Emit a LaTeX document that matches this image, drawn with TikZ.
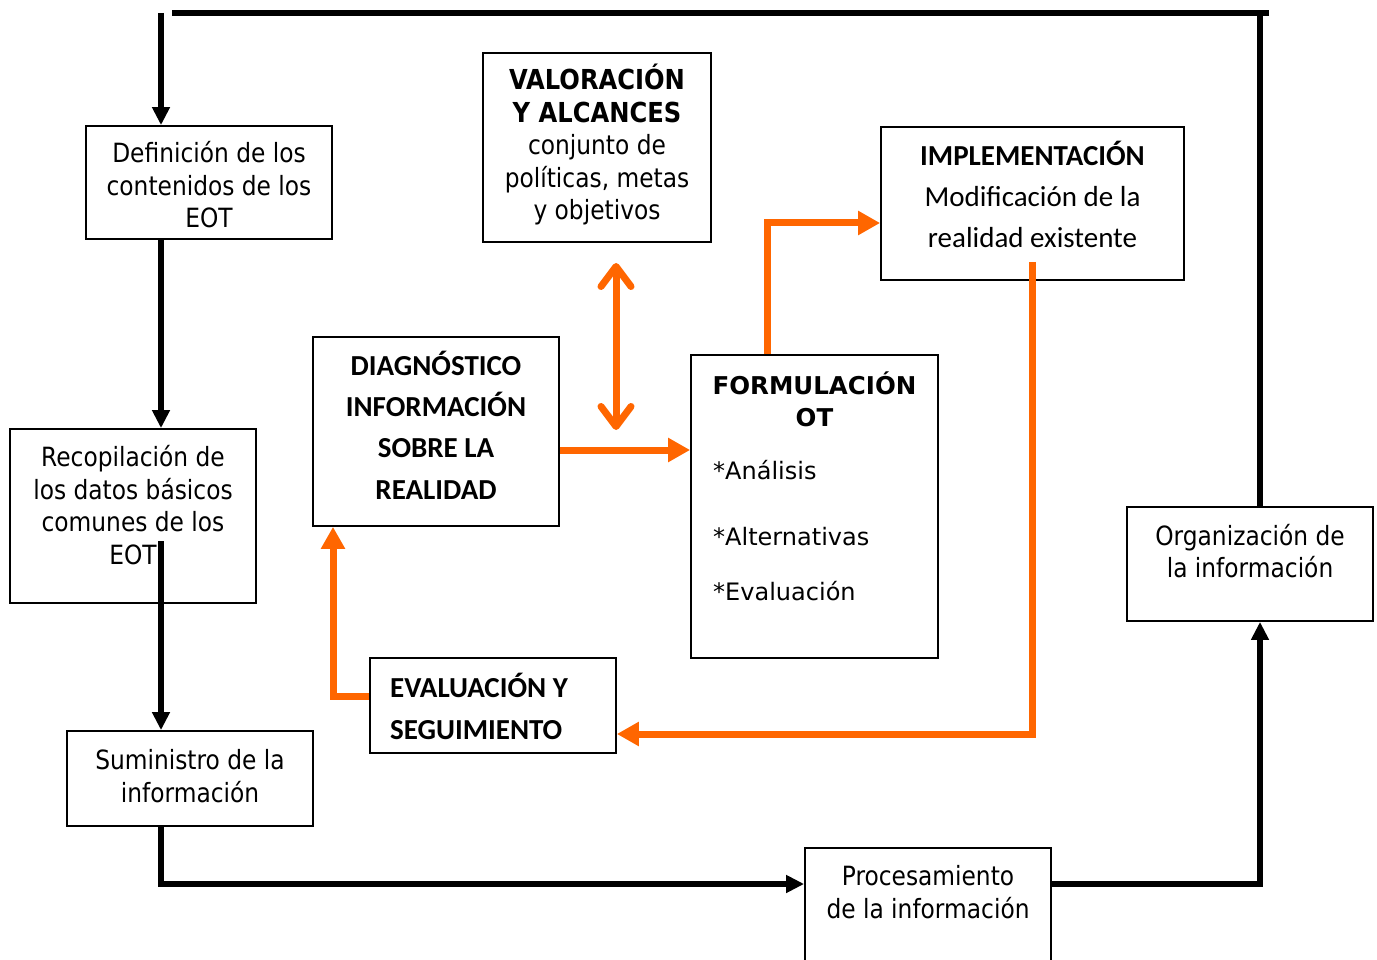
\documentclass[tikz,border=0pt]{standalone}
\usepackage{fontspec}
\setmainfont{DejaVu Sans}
\newfontfamily\tahf[FakeStretch=0.88]{DejaVu Sans}
\newfontfamily\verdf{DejaVu Sans}
\newfontfamily\calf{Carlito}
\usetikzlibrary{arrows.meta}
\definecolor{orng}{HTML}{FF6600}
\begin{document}
\begin{tikzpicture}[x=1pt,y=-1pt,
  box/.style={draw=black, line width=1.8pt, inner sep=0pt},
  blk/.style={line width=5.5pt, black},
  blkarr/.style={blk, -{Triangle[width=17pt,length=18pt]}},
  orl/.style={line width=7pt, orng},
  orarr/.style={orl, -{Triangle[width=23pt,length=22pt]}},
  ttah/.style={font=\tahf\fontsize{26.5}{32.5}\selectfont, align=center, inner sep=0pt},
  tverd/.style={font=\verdf\fontsize{24}{32}\selectfont, inner sep=0pt},
  tcal/.style={font=\calf\fontsize{29}{41.3}\selectfont, align=center, inner sep=0pt}
]
\useasboundingbox (0,0) rectangle (1377,960);
\fill[white] (0,0) rectangle (1377,960);

% boxes
\node[box, minimum width=246pt, minimum height=113pt] (def) at (209,182.5) {};
\node[box, minimum width=246pt, minimum height=174pt] (rec) at (133,516) {};
\node[box, minimum width=246pt, minimum height=95pt] (sum) at (190,778.5) {};
\node[box, minimum width=246pt, minimum height=132pt] (proc) at (928,914) {};
\node[box, minimum width=246pt, minimum height=114pt] (orgb) at (1250,564) {};
\node[box, minimum width=228pt, minimum height=189pt] (val) at (597,147.5) {};
\node[box, minimum width=246pt, minimum height=189pt] (diag) at (436,431.5) {};
\node[box, minimum width=247pt, minimum height=303pt] (form) at (814.5,506.5) {};
\node[box, minimum width=303pt, minimum height=153pt] (impl) at (1032.5,203.5) {};
\node[box, minimum width=246pt, minimum height=95pt] (eval) at (493,705.5) {};

% texts
\node[ttah] (tdef) at (209,185) {Definición de los\\contenidos de los\\EOT};
\node[ttah] (trec) at (133,505) {Recopilación de\\los datos básicos\\comunes de los\\EOT};
\node[ttah] (tsum) at (190,776) {Suministro de la\\información};
\node[ttah] (tproc) at (928,892) {Procesamiento\\de la información};
\node[ttah] (torg) at (1250,551) {Organización de\\la información};
\node[ttah] (tval) at (597,145) {{\fontsize{27.5}{32.5}\selectfont\bfseries VALORACIÓN}\\{\fontsize{27.5}{32.5}\selectfont\bfseries Y ALCANCES}\\conjunto de\\políticas, metas\\y objetivos};
\node[tcal] (tdiag) at (436,425) {\bfseries DIAGNÓSTICO\\\bfseries INFORMACIÓN\\\bfseries SOBRE LA\\\bfseries REALIDAD};
\node[tcal] (timpl) at (1032.5,194.5) {\bfseries IMPLEMENTACIÓN\\Modificación de la\\realidad existente};
\node[tcal, align=left, anchor=west] (teval) at (390,706.5) {\bfseries EVALUACIÓN Y\\\bfseries SEGUIMIENTO};
\node[tverd, align=center, font=\verdf\bfseries\fontsize{24.5}{32}\selectfont] (tform) at (814.5,399) {FORMULACIÓN\\OT};
\node[tverd, anchor=west] (ta) at (713,470) {*Análisis};
\node[tverd, anchor=west] (tb) at (713,537) {*Alternativas};
\node[tverd, anchor=west] (tc) at (713,591) {*Evaluación};

% helper coordinates
\coordinate (vx) at (161,0);
\coordinate (vr) at (1260,0);
\coordinate (ytop) at (0,13);
\coordinate (ybot) at (0,884);
\coordinate (tl) at (172,13);
\coordinate (tr) at (1269,13);
\coordinate (recin) at (161,541);
\coordinate (h450) at (0,450);
\coordinate (x767) at (767,0);
\coordinate (h223) at (0,223);
\coordinate (implin) at (1032.5,262);
\coordinate (h734) at (0,734);
\coordinate (h696) at (0,696);
\coordinate (x333) at (333,0);
\coordinate (dtop) at (616,263);
\coordinate (dbot) at (616,430);

% black connectors
\draw[blk] (orgb.north -| vr) -- (vr |- ytop);
\draw[blk] (tr) -- (tl);
\draw[blkarr] (vx |- ytop) -- (def.north -| vx);
\draw[blkarr] (def.south -| vx) -- (rec.north -| vx);
\draw[blkarr] (recin) -- (sum.north -| vx);
\draw[blkarr] (sum.south -| vx) |- (proc.west |- ybot);
\draw[blkarr] (proc.east |- ybot) -| (orgb.south -| vr);

% orange connectors
\draw[orarr] (diag.east |- h450) -- (form.west |- h450);
\draw[orarr] (form.north -| x767) |- (impl.west |- h223);
\draw[orarr] (implin) |- (eval.east |- h734);
\draw[orarr] (eval.west |- h696) -| (diag.south -| x333);
\draw[orl, line cap=round, {Straight Barb[length=20pt,width=30pt,line cap=round,line join=round]}-{Straight Barb[length=20pt,width=30pt,line cap=round,line join=round]}] (dtop) -- (dbot);
\end{tikzpicture}
\end{document}
